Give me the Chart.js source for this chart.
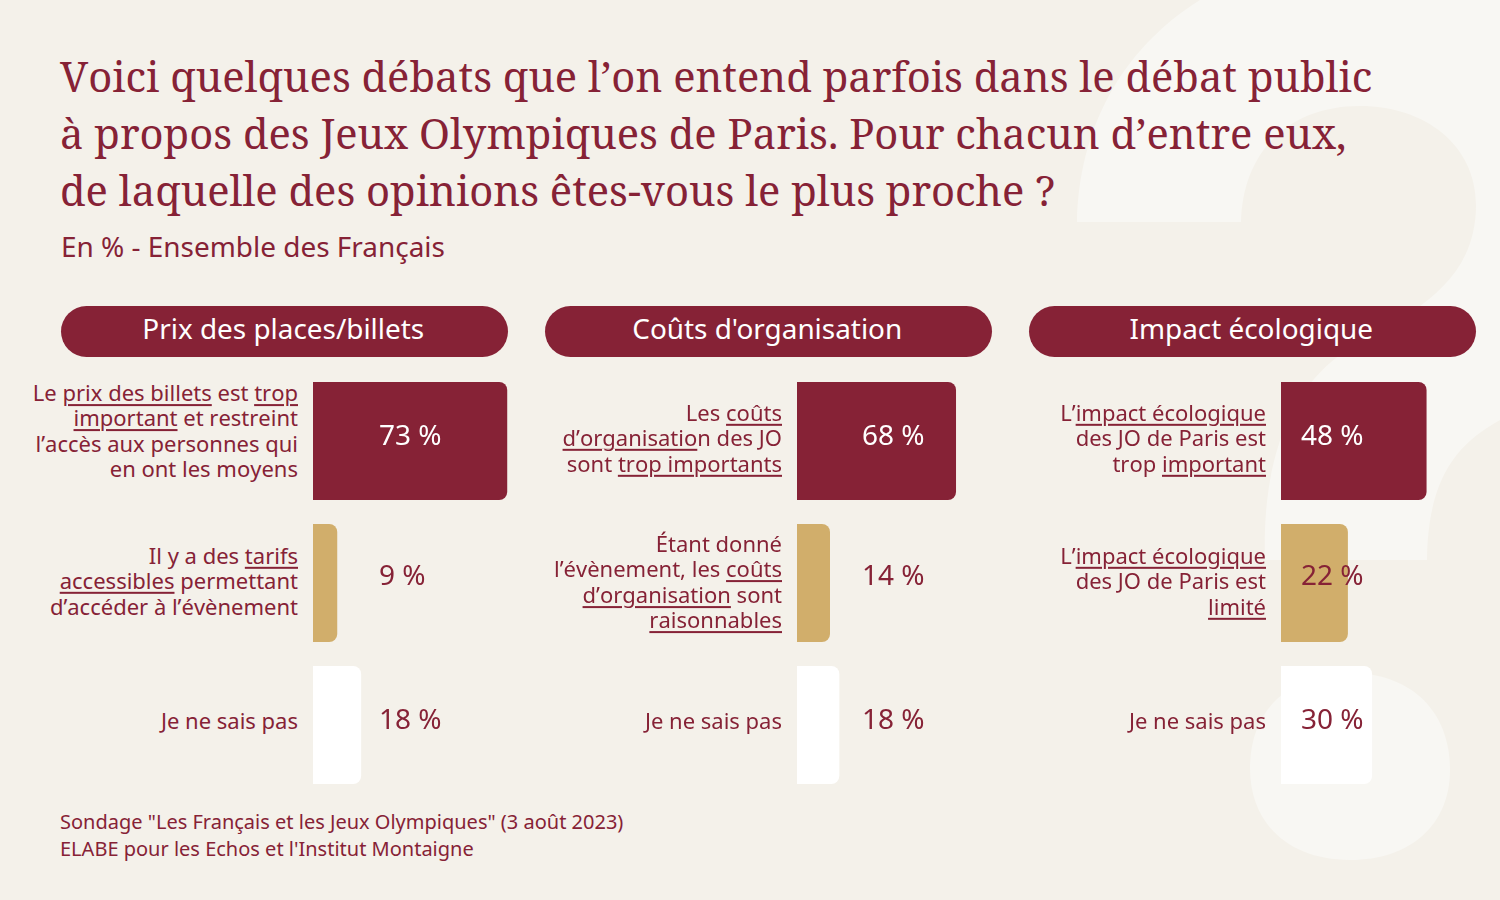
<!DOCTYPE html>
<html lang="fr">
<head>
<meta charset="utf-8">
<title>Débats sur les Jeux Olympiques de Paris</title>
<script src="https://cdn.jsdelivr.net/npm/chart.js@4"></script>
<style>
  html, body { margin: 0; padding: 0; }
  body { width: 1500px; height: 900px; position: relative; overflow: hidden; background: #f4f1ea; color: #862236; font-family: "Noto Sans", sans-serif; }
  #fond { position: absolute; left: 0; top: 0; }
  .titre { position: absolute; left: 60px; top: 47px; font-family: "Noto Serif", "DejaVu Serif", serif; font-size: 41.7px; line-height: 57px; font-kerning: none; white-space: nowrap; }
  .sous-titre { position: absolute; left: 61px; top: 228px; font-size: 27.95px; line-height: 37px; white-space: nowrap; }
  .pilule { position: absolute; top: 306px; width: 446.5px; height: 51px; box-sizing: border-box; padding-right: 2px; border-radius: 25.5px; background: #862236; color: #fff; font-size: 27.9px; line-height: 45px; text-align: center; }
  .graphe { position: absolute; top: 370px; width: 200px; height: 426px; }
  .libelle { position: absolute; width: 290px; text-align: right; font-size: 22px; line-height: 25.45px; font-kerning: none; transform: translateY(-50%); white-space: nowrap; }
  .libelle u { text-decoration-thickness: 1.5px; text-underline-offset: 3px; }
  .source { position: absolute; left: 60px; top: 808px; font-size: 20px; line-height: 27px; white-space: nowrap; }
</style>
</head>
<body>
<svg id="fond" width="1500" height="900">
  <path fill="#f8f7f3" d="M1077 222 C1079 130 1120 50 1200 0 L1500 0 L1500 420 C1455 445 1428 480 1427 560 L1265 560 C1262 470 1285 395 1340 355 C1400 318 1476 290 1476 205 C1476 145 1425 106 1360 106 C1290 106 1243 150 1241 222 Z"/>
  <path fill="#f8f7f3" d="M1250 768 C1250 705 1295 673 1350 673 C1410 673 1450 710 1450 770 C1450 825 1410 860 1350 860 C1290 860 1250 825 1250 768 Z"/>
</svg>

<div class="titre" id="titre"></div>
<div class="sous-titre" id="sousTitre"></div>
<div id="pilules"></div>
<div id="graphes"></div>
<div class="source" id="source"></div>

<script>
const titleLines = [
  "Voici quelques débats que l’on entend parfois dans le débat public",
  "à propos des Jeux Olympiques de Paris. Pour chacun d’entre eux,",
  "de laquelle des opinions êtes-vous le plus proche ?",
];
const subtitle = "En % - Ensemble des Français";
const sourceLines = [
  'Sondage "Les Français et les Jeux Olympiques" (3 août 2023)',
  "ELABE pour les Echos et l'Institut Montaigne",
];

const panelNames = ["Prix des places/billets", "Coûts d'organisation", "Impact écologique"];

const prixValues = [73, 9, 18];
const coutsValues = [68, 14, 18];
const impactValues = [48, 22, 30];

const prixLabels = [
  ["Le prix des billets est trop", "important et restreint", "l’accès aux personnes qui", "en ont les moyens"],
  ["Il y a des tarifs", "accessibles permettant", "d’accéder à l’évènement"],
  ["Je ne sais pas"],
];
const coutsLabels = [
  ["Les coûts", "d’organisation des JO", "sont trop importants"],
  ["Étant donné", "l’évènement, les coûts", "d’organisation sont", "raisonnables"],
  ["Je ne sais pas"],
];
const impactLabels = [
  ["L’impact écologique", "des JO de Paris est", "trop important"],
  ["L’impact écologique", "des JO de Paris est", "limité"],
  ["Je ne sais pas"],
];

const prixUnderlined = [["prix des billets", "trop", "important"], ["tarifs", "accessibles"], []];
const coutsUnderlined = [["coûts", "d’organisatio", "trop importants"], ["coûts", "d’organisation", "raisonnables"], []];
const impactUnderlined = [["impact écologique", "important"], ["impact écologique", "limité"], []];

const barColors = ["#862236", "#d1ae6b", "#ffffff"];
const valueColors = ["#ffffff", "#862236", "#862236"];

// chaque panneau a sa propre echelle, comme sur l'original
const panels = [
  { name: panelNames[0], values: prixValues, labels: prixLabels, underlined: prixUnderlined, left: 313, max: 75.3, valueX: 66, shift: [-10, -2, -4] },
  { name: panelNames[1], values: coutsValues, labels: coutsLabels, underlined: coutsUnderlined, left: 797, max: 85.7, valueX: 65, shift: [-3, -1, -4] },
  { name: panelNames[2], values: impactValues, labels: impactLabels, underlined: impactUnderlined, left: 1281, max: 66.1, valueX: 20, shift: [-3, -2, -4] },
];
const valueShift = [-4, -6, -4];

document.getElementById("titre").innerHTML = titleLines.join("<br>");
document.getElementById("sousTitre").textContent = subtitle;
document.getElementById("source").innerHTML = sourceLines.join("<br>");

function lineHtml(line, phrases) {
  let html = line;
  phrases.forEach((p) => {
    html = html.replace(p, "<u>" + p + "</u>");
  });
  return html;
}

// ===== valeurs ecrites a cote des barres =====
const valueLabels = {
  id: "valueLabels",
  afterDatasetsDraw(chart, args, opts) {
    const ctx = chart.ctx;
    const meta = chart.getDatasetMeta(0);
    ctx.save();
    ctx.font = '28px "Noto Sans"';
    ctx.textBaseline = "middle";
    ctx.textAlign = "left";
    meta.data.forEach((bar, i) => {
      ctx.fillStyle = valueColors[i];
      ctx.fillText(chart.data.datasets[0].data[i] + " %", opts.x, bar.y + valueShift[i]);
    });
    ctx.restore();
  },
};

panels.forEach((panel) => {
  const pill = document.createElement("div");
  pill.className = "pilule";
  pill.style.left = panel.left - 252 + "px";
  pill.textContent = panel.name;
  document.getElementById("pilules").appendChild(pill);

  const canvas = document.createElement("canvas");
  canvas.className = "graphe";
  canvas.style.left = panel.left + "px";
  canvas.width = 200;
  canvas.height = 426;
  document.getElementById("graphes").appendChild(canvas);

  const chart = new Chart(canvas, {
    type: "bar",
    data: {
      labels: panel.labels.map((l) => l.join(" ")),
      datasets: [
        {
          data: panel.values,
          backgroundColor: barColors,
          barThickness: 117.5,
          borderSkipped: false,
          borderRadius: { topLeft: 0, bottomLeft: 0, topRight: 8, bottomRight: 8 },
        },
      ],
    },
    options: {
      indexAxis: "y",
      responsive: false,
      animation: false,
      layout: { padding: 0 },
      plugins: {
        legend: { display: false },
        tooltip: { enabled: false },
        valueLabels: { x: panel.valueX },
      },
      scales: {
        x: { display: false, min: 0, max: panel.max },
        y: { display: false },
      },
    },
    plugins: [valueLabels],
  });

  // libelles en html a cause des mots soulignes
  chart.getDatasetMeta(0).data.forEach((bar, i) => {
    const div = document.createElement("div");
    div.className = "libelle";
    div.style.left = panel.left - 15 - 290 + "px";
    div.style.top = 370 + bar.y + panel.shift[i] + "px";
    div.innerHTML = panel.labels[i].map((line) => lineHtml(line, panel.underlined[i])).join("<br>");
    document.body.appendChild(div);
  });
});
</script>
</body>
</html>
